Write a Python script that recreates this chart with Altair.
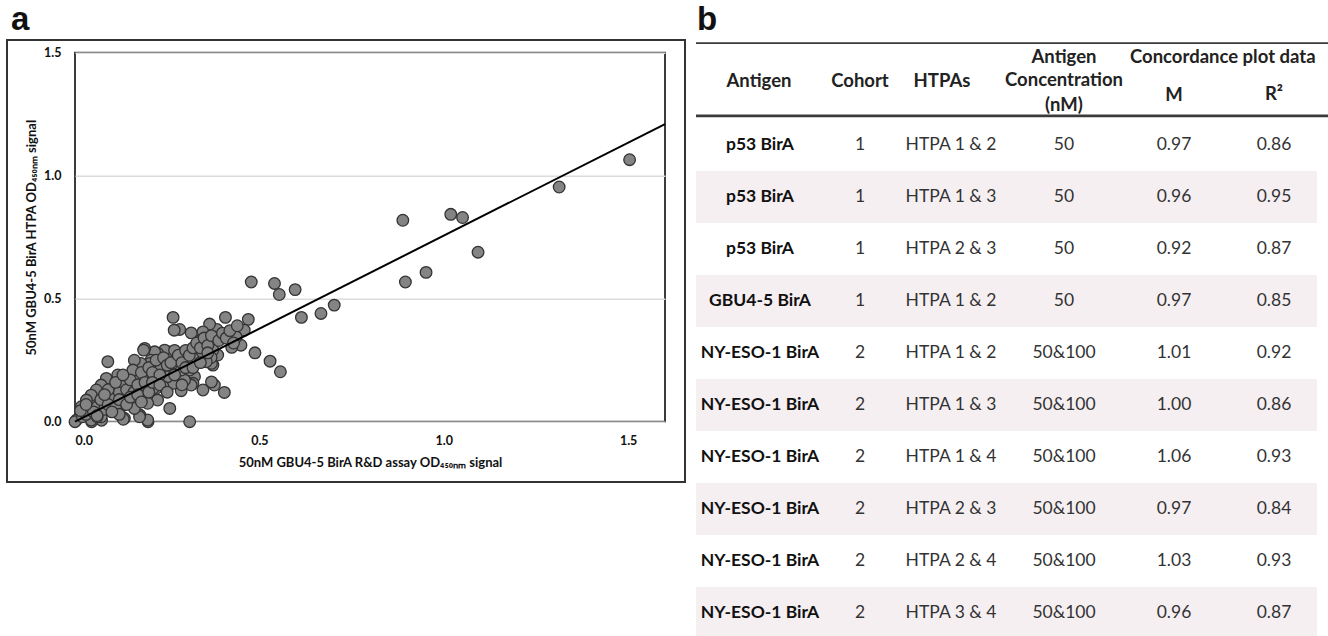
import altair as alt
import pandas as pd

# ---------------- panel a: scatter data ----------------
rd_signal = [
    1.504, 1.313, 1.093, 1.051, 1.019, 0.952, 0.896, 0.889,
    0.703, 0.667, 0.614, 0.597, 0.554, 0.541, 0.478, 0.557, 0.529, 0.488,
    0.470, 0.459, 0.450, 0.437, 0.425, 0.408, 0.405,
    0.387, 0.385, 0.378, 0.374, 0.374, 0.370, 0.370, 0.369, 0.365, 0.356,
    0.347, 0.347, 0.342, 0.338, 0.324, 0.320, 0.320, 0.315, 0.315, 0.311,
    0.311, 0.302, 0.297, 0.288, 0.288, 0.284, 0.269, 0.266, 0.266, 0.266,
    0.261, 0.257, 0.252, 0.251, 0.251, 0.243, 0.239, 0.234, 0.233, 0.225,
    0.224, 0.224, 0.220, 0.216, 0.212, 0.206, 0.203, 0.202, 0.198, 0.198,
    0.197, 0.197, 0.189, 0.188, 0.186, 0.185, 0.179, 0.176, 0.175, 0.170,
    0.161, 0.161, 0.157, 0.148, 0.139, 0.134, 0.131, 0.125, 0.116, 0.112,
    0.107, 0.098, 0.098, 0.094, 0.089, 0.085, 0.080, 0.072, 0.071, 0.071,
    0.058, 0.053, 0.045, 0.044, 0.044, 0.035, 0.031, 0.022, 0.017, 0.004,
    0.000,
    0.06, 0.08, 0.10, 0.12, 0.13, 0.14, 0.15, 0.16, 0.17, 0.18,
    0.19, 0.20, 0.21, 0.22, 0.23, 0.24, 0.25, 0.26, 0.27, 0.28,
    0.29, 0.30, 0.31, 0.32, 0.33, 0.34, 0.35, 0.36, 0.37, 0.39,
    0.40, 0.41, 0.42, 0.43, 0.44, 0.02, 0.03, 0.05, 0.07, 0.09,
    0.11, 0.12, 0.14, 0.15, 0.17, 0.18, 0.20, 0.21, 0.23, 0.25,
    0.27, 0.29, 0.30, 0.32, 0.34, 0.36,
    0.09, 0.11, 0.13, 0.06, 0.08, 0.12, 0.015, 0.03, 0.06, 0.10,
]
htpa_signal = [
    1.065, 0.954, 0.689, 0.830, 0.843, 0.607, 0.568, 0.819,
    0.474, 0.440, 0.424, 0.537, 0.517, 0.562, 0.568, 0.203, 0.246, 0.280,
    0.416, 0.372, 0.311, 0.345, 0.302, 0.424, 0.119,
    0.271, 0.375, 0.149, 0.291, 0.230, 0.237, 0.162, 0.261, 0.397, 0.244,
    0.365, 0.129, 0.332, 0.278, 0.183, 0.156, 0.257, 0.361, 0.149, 0.210,
    0.000, 0.250, 0.169, 0.210, 0.126, 0.375, 0.372, 0.424, 0.264, 0.156,
    0.197, 0.054, 0.217, 0.284, 0.183, 0.291, 0.142, 0.250, 0.223, 0.183,
    0.278, 0.088, 0.136, 0.284, 0.136, 0.250, 0.237, 0.190, 0.183, 0.000,
    0.075, 0.007, 0.298, 0.129, 0.291, 0.149, 0.237, 0.027, 0.020, 0.176,
    0.250, 0.054, 0.210, 0.142, 0.101, 0.014, 0.010, 0.061, 0.190, 0.088,
    0.149, 0.048, 0.075, 0.122, 0.244, 0.176, 0.101, 0.006, 0.149, 0.020,
    0.129, 0.075, 0.000, 0.108, 0.007, 0.054, 0.088, 0.034, 0.061, 0.007,
    0.000,
    0.06, 0.05, 0.10, 0.12, 0.16, 0.13, 0.17, 0.12, 0.15, 0.20,
    0.16, 0.22, 0.20, 0.25, 0.19, 0.26, 0.23, 0.24, 0.29, 0.27,
    0.24, 0.29, 0.27, 0.30, 0.32, 0.30, 0.34, 0.31, 0.35, 0.33,
    0.36, 0.34, 0.37, 0.32, 0.39, 0.02, 0.03, 0.04, 0.09, 0.07,
    0.06, 0.09, 0.07, 0.10, 0.11, 0.08, 0.12, 0.16, 0.15, 0.12,
    0.19, 0.15, 0.22, 0.22, 0.24, 0.28,
    0.13, 0.16, 0.19, 0.02, 0.11, 0.03, 0.045, 0.07, 0.025, 0.04,
]

fit_x = [0.0, 1.6]
fit_y = [0.0, 1.21]

x_ticks = [0.0, 0.5, 1.0, 1.5]
y_ticks = [0.0, 0.5, 1.0, 1.5]

x_title = "50nM GBU4-5 BirA R&D assay OD\u2084\u2085\u2080\u2099\u2098 signal"
y_title = "50nM GBU4-5 BirA HTPA OD\u2084\u2085\u2080\u2099\u2098 signal"

# ---------------- panel b: table ----------------
antigens = ["p53 BirA", "p53 BirA", "p53 BirA", "GBU4-5 BirA",
            "NY-ESO-1 BirA", "NY-ESO-1 BirA", "NY-ESO-1 BirA",
            "NY-ESO-1 BirA", "NY-ESO-1 BirA", "NY-ESO-1 BirA"]
cohorts = ["1", "1", "1", "1", "2", "2", "2", "2", "2", "2"]
htpas = ["HTPA  1 & 2", "HTPA  1 & 3", "HTPA  2 & 3", "HTPA  1 & 2",
         "HTPA 1 & 2", "HTPA 1 & 3", "HTPA 1 & 4", "HTPA 2 & 3",
         "HTPA 2 & 4", "HTPA 3 & 4"]
concentrations = ["50", "50", "50", "50", "50&100", "50&100", "50&100",
                  "50&100", "50&100", "50&100"]
m_values = ["0.97", "0.96", "0.92", "0.97", "1.01", "1.00", "1.06",
            "0.97", "1.03", "0.96"]
r2_values = ["0.86", "0.95", "0.87", "0.85", "0.92", "0.86", "0.93",
             "0.84", "0.93", "0.87"]

header_texts = ["Antigen", "Cohort", "HTPAs", "Antigen", "Concentration",
                "(nM)", "M", "R\u00b2"]

# ---------------- layout constants (pixels / row units) ----------------
COL_X = [760, 860, 951, 1064, 1174, 1274]
HEADER_X = [759, 860, 942, 1064, 1064, 1064, 1174, 1274]
HEADER_ROW = [-1.23, -1.23, -1.23, -1.69, -1.25, -0.77, -0.96, -0.98]
FONT = "Lato"

scatter_df = pd.DataFrame({"rd": rd_signal, "htpa": htpa_signal})
fit_df = pd.DataFrame({"rd": fit_x, "htpa": fit_y})

cells = []
columns = [antigens, cohorts, htpas, concentrations, m_values, r2_values]
for j, col in enumerate(columns):
    for i, txt in enumerate(col):
        cells.append({"text": txt, "cx": COL_X[j], "row": i, "bold": j == 0})
cells_df = pd.DataFrame(cells)
header_df = pd.DataFrame({"text": header_texts, "cx": HEADER_X, "row": HEADER_ROW})

shade_rows = [1, 3, 5, 7, 9]
shade_df = pd.DataFrame({"x1": [696] * len(shade_rows), "x2": [1317] * len(shade_rows),
                         "r1": [r - 0.5 for r in shade_rows],
                         "r2": [r + 0.5 for r in shade_rows]})
rules_df = pd.DataFrame({"x1": [696, 696], "x2": [1328, 1328], "r": [-1.96, -0.56],
                         "w": ["thin", "thick"]})
box_df = pd.DataFrame({"x1": [7], "x2": [685], "r1": [-2.02], "r2": [6.48]})
labels_df = pd.DataFrame({"text": ["a", "b"], "cx": [11, 697], "row": [-2.22, -2.22]})
concord_df = pd.DataFrame({"text": ["Concordance plot data"], "cx": [1130], "row": [-1.69]})

W, H = 590, 369
PL, PT = 75, 52.7

# table scales: absolute pixels horizontally, row units vertically
tx = alt.Scale(domain=[0, 1328], range=[-PL, 1328 - PL], nice=False, zero=False)
ty = alt.Scale(domain=[0, 9], range=[145 - PT, 145 + 52 * 9 - PT], nice=False, zero=False)

xs = alt.Scale(domain=[0, 1.6], nice=False, zero=False)
ys = alt.Scale(domain=[0, 1.5], nice=False, zero=False)

points = alt.Chart(scatter_df).mark_circle(
    size=135, color="#848484", stroke="#333333", strokeWidth=1.3, opacity=1
).encode(
    x=alt.X("rd:Q", scale=xs, axis=alt.Axis(
        values=x_ticks, format=".1f", grid=False, ticks=False, domain=False,
        labelFont=FONT, labelFontWeight="bold", labelFontSize=12.5, labelColor="#111",
        labelPadding=13, title=x_title, titleFont=FONT, titleFontWeight="bold",
        titleFontSize=13, titleColor="#111", titleY=41, titleBaseline="middle")),
    y=alt.Y("htpa:Q", scale=ys, axis=alt.Axis(
        values=y_ticks, format=".1f", grid=True, gridColor="#dcdcdc", gridWidth=1.5,
        ticks=False, domain=False,
        labelFont=FONT, labelFontWeight="bold", labelFontSize=12.5, labelColor="#111",
        labelPadding=14, title=y_title, titleFont=FONT, titleFontWeight="bold",
        titleFontSize=13, titleColor="#111", titleX=-44, titleY=H / 2,
        titleBaseline="middle", titleAlign="center")),
)

fit = alt.Chart(fit_df).mark_line(color="black", strokeWidth=2).encode(
    x=alt.X("rd:Q", scale=xs, axis=None),
    y=alt.Y("htpa:Q", scale=ys, axis=None),
)

box = alt.Chart(box_df).mark_rect(fill=None, stroke="#333333", strokeWidth=2).encode(
    x=alt.X("x1:Q", scale=tx, axis=None), x2="x2:Q",
    y=alt.Y("r1:Q", scale=ty, axis=None), y2="r2:Q",
)

shades = alt.Chart(shade_df).mark_rect(color="#f6eff2").encode(
    x=alt.X("x1:Q", scale=tx, axis=None), x2="x2:Q",
    y=alt.Y("r1:Q", scale=ty, axis=None), y2="r2:Q",
)

rules = alt.Chart(rules_df).mark_rule(color="#3a3a3a").encode(
    x=alt.X("x1:Q", scale=tx, axis=None), x2="x2:Q",
    y=alt.Y("r:Q", scale=ty, axis=None),
    strokeWidth=alt.StrokeWidth("w:N", scale=alt.Scale(domain=["thin", "thick"], range=[1.8, 2.8]),
                                legend=None),
)

body_bold = alt.Chart(cells_df).transform_filter("datum.bold").mark_text(
    font=FONT, fontWeight="bold", fontSize=17.5, color="#111", baseline="middle", align="center"
).encode(
    x=alt.X("cx:Q", scale=tx, axis=None), y=alt.Y("row:Q", scale=ty, axis=None), text="text:N"
)
body_reg = alt.Chart(cells_df).transform_filter("!datum.bold").mark_text(
    font=FONT, fontSize=17.5, color="#333", baseline="middle", align="center"
).encode(
    x=alt.X("cx:Q", scale=tx, axis=None), y=alt.Y("row:Q", scale=ty, axis=None), text="text:N"
)
header = alt.Chart(header_df).mark_text(
    font=FONT, fontWeight="bold", fontSize=18.5, color="#222", baseline="middle", align="center"
).encode(
    x=alt.X("cx:Q", scale=tx, axis=None), y=alt.Y("row:Q", scale=ty, axis=None), text="text:N"
)
concord = alt.Chart(concord_df).mark_text(
    font=FONT, fontWeight="bold", fontSize=18.5, color="#222", baseline="middle", align="left"
).encode(
    x=alt.X("cx:Q", scale=tx, axis=None), y=alt.Y("row:Q", scale=ty, axis=None), text="text:N"
)
panel_labels = alt.Chart(labels_df).mark_text(
    font="Liberation Sans", fontSize=33, fontWeight="bold", color="#111",
    baseline="alphabetic", align="left"
).encode(
    x=alt.X("cx:Q", scale=tx, axis=None), y=alt.Y("row:Q", scale=ty, axis=None), text="text:N"
)

chart = alt.layer(
    shades, box, points, fit, rules, header, concord, body_bold, body_reg, panel_labels
).resolve_scale(
    x="independent", y="independent"
).properties(
    width=W, height=H,
    autosize=alt.AutoSizeParams(type="none"),
    padding={"left": PL, "top": PT, "right": 1328 - PL - W, "bottom": 636 - PT - H},
    background="white",
).configure_view(stroke="#3c3c3c", strokeWidth=2)

chart.save("out.html", embed_options={"renderer": "svg", "actions": False})
